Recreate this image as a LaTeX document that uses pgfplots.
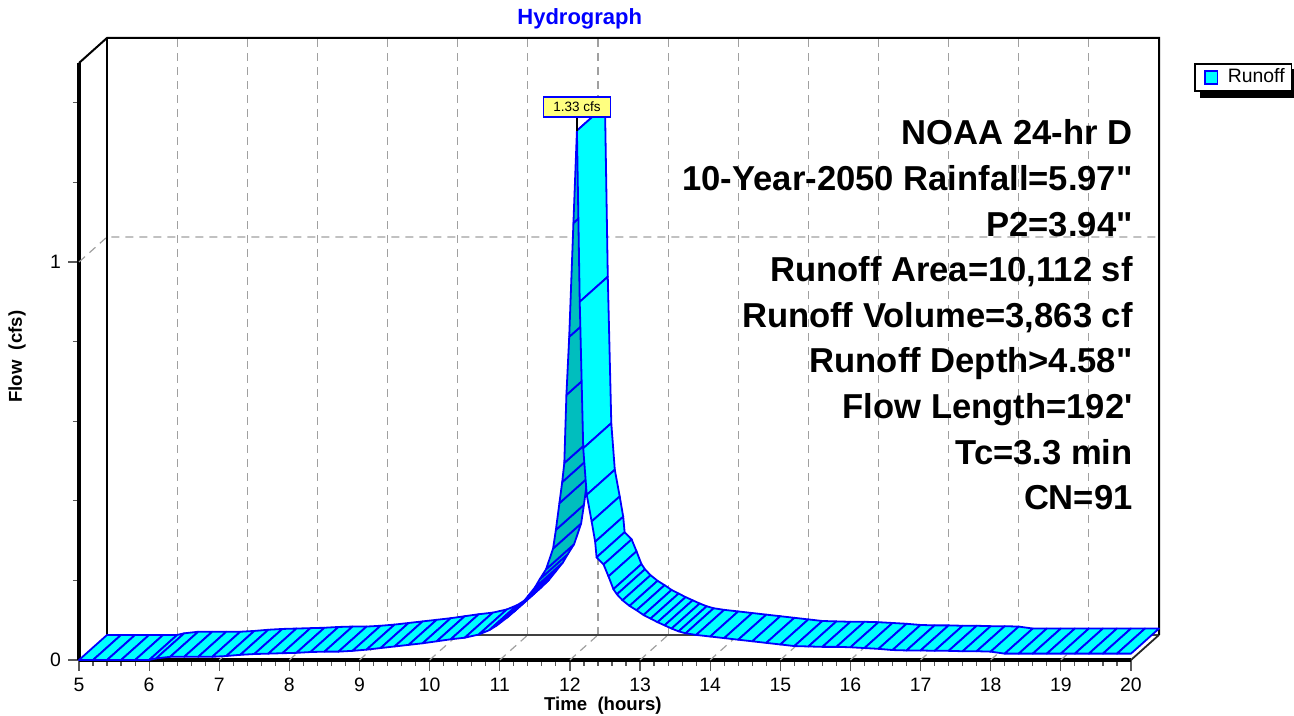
\documentclass[border=0pt]{standalone}
\usepackage{pgfplots}
\pgfplotsset{compat=1.18}
\usepackage{pgfplotstable}
\usepackage{fontspec}
\setmainfont{Liberation Sans}
\setmonofont{Liberation Sans}
\newcommand\dq{{\ttfamily"}}
\newcommand\sq{{\ttfamily'}}
\pgfdeclarelayer{background}
\pgfsetlayers{background,main}
\definecolor{rcyan}{RGB}{0,255,255}
\definecolor{rteal}{RGB}{0,190,190}
\definecolor{rblue}{RGB}{0,0,255}
\definecolor{gridgray}{RGB}{160,160,160}
\definecolor{lblyellow}{RGB}{255,255,128}

\pgfplotstableread{
x y
5.0 0.000
5.2 0.000
5.4 0.000
5.6 0.000
5.8 0.000
6.0 0.000
6.1 0.004
6.3 0.008
6.5 0.008
6.7 0.008
6.9 0.008
7.1 0.010
7.3 0.013
7.5 0.015
7.7 0.016
7.9 0.017
8.1 0.018
8.3 0.020
8.5 0.021
8.7 0.021
8.9 0.023
9.1 0.026
9.3 0.030
9.5 0.034
9.7 0.038
9.9 0.042
10.1 0.047
10.3 0.052
10.5 0.056
10.7 0.064
10.85 0.075
10.95 0.086
11.1 0.106
11.2 0.121
11.3 0.138
11.4 0.160
11.5 0.182
11.57 0.203
11.66 0.228
11.76 0.280
11.80 0.327
11.85 0.394
11.89 0.447
11.92 0.495
11.95 0.666
11.99 0.812
12.05 1.098
12.10 1.330
12.14 0.900
12.19 0.532
12.24 0.415
12.31 0.348
12.36 0.297
12.38 0.258
12.48 0.240
12.55 0.210
12.62 0.178
12.67 0.165
12.75 0.150
12.85 0.136
12.95 0.125
13.05 0.113
13.15 0.104
13.25 0.095
13.35 0.087
13.45 0.079
13.55 0.072
13.65 0.067
13.80 0.063
14.0 0.059
14.2 0.055
14.4 0.051
14.6 0.047
14.8 0.043
15.0 0.039
15.2 0.035
15.4 0.034
15.6 0.033
15.8 0.033
16.0 0.032
16.2 0.030
16.4 0.028
16.6 0.025
16.8 0.024
17.0 0.024
17.2 0.023
17.4 0.023
17.6 0.022
17.8 0.022
18.0 0.021
18.2 0.016
18.4 0.016
18.6 0.016
18.8 0.016
19.0 0.016
19.2 0.016
19.4 0.016
19.6 0.016
19.8 0.016
20.0 0.016
}\hydro

\begin{document}
\begin{tikzpicture}
\path[use as bounding box] (-39.5pt,-28pt) rectangle (607.5pt,330pt);
\pgfplotstablegetrowsof{\hydro}
\pgfmathtruncatemacro\nlast{\pgfplotsretval-2}
\begin{axis}[
  at={(0pt,0pt)}, anchor=south west,
  x=35.065pt, y=199pt,
  xmin=5, xmax=20, ymin=0, ymax=1.5,
  clip=false,
  axis x line*=bottom, axis y line*=left,
  axis line style={line width=2pt, black},
  xtick={5,...,20}, minor x tick num=4,
  ytick={0,1}, minor ytick={0.2,0.4,0.6,0.8,1.2,1.4},
  tick align=outside,
  major tick length=5.5pt, minor tick length=3pt,
  tick style={black!65, line width=0.6pt},
  /pgf/number format/assume math mode=true,
  tick label style={font=\fontsize{9.7}{11}\selectfont},
  xlabel={Time\ \ (hours)},
  ylabel={Flow\ \ (cfs)},
  xlabel style={at={(axis description cs:0.498,0)}, anchor=center, yshift=-23pt, font=\bfseries\fontsize{9.3}{11}\selectfont},
  ylabel style={at={(axis description cs:0,0.508)}, anchor=center, yshift=31pt, font=\bfseries\fontsize{9.3}{11}\selectfont},
  title={Hydrograph},
  title style={at={(axis description cs:0.476,1)}, anchor=center, yshift=16pt, font=\bfseries\fontsize{11}{13}\selectfont, text=rblue},
  legend style={name=leg, at={(axis description cs:1.06,1)}, anchor=north west, draw=black, line width=0.8pt, fill=white,
    font=\fontsize{9.7}{11}\selectfont, inner xsep=1.5pt, inner ysep=0.5pt},
]
\addlegendimage{legend image code/.code={\path[draw=none, fill=none] (-3.5pt,0pt) -- (9.5pt,0pt); \draw[fill=rcyan, draw=rblue, line width=0.8pt] (0pt,-3.2pt) rectangle (6.4pt,3.2pt);}}
\addlegendentry{Runoff}

% back wall, floor and grid
\pgfplotsinvokeforeach{6,...,19}{
  \draw[gridgray, line width=0.6pt, dash pattern=on 4pt off 3pt] (axis cs:#1.4,0.063) -- (axis cs:#1.4,1.563);
  \draw[gridgray, line width=0.6pt, dash pattern=on 4pt off 3pt] (axis cs:#1,0) -- (axis cs:#1.4,0.063);
}
\draw[gridgray, line width=0.6pt, dash pattern=on 4pt off 3pt] (axis cs:5,1) -- (axis cs:5.4,1.063) -- (axis cs:20.4,1.063);
\draw[black!75, line width=0.9pt] (axis cs:5.4,0.063) -- (axis cs:20.4,0.063);
\draw[black, line width=1pt] (axis cs:5,1.5) -- (axis cs:5.4,1.563) -- (axis cs:20.4,1.563) -- (axis cs:20.4,0.063);
\draw[black, line width=1pt] (axis cs:5.4,1.563) -- (axis cs:5.4,0.063);
\draw[black!85, line width=0.9pt] (axis cs:20,0) -- (axis cs:20.4,0.063);

% ribbon, drawn segment by segment from left to right
\pgfplotsforeachungrouped \i in {0,...,\nlast}{%
  \pgfmathtruncatemacro\j{\i+1}%
  \pgfplotstablegetelem{\i}{x}\of\hydro\let\xa\pgfplotsretval
  \pgfplotstablegetelem{\i}{y}\of\hydro\let\ya\pgfplotsretval
  \pgfplotstablegetelem{\j}{x}\of\hydro\let\xb\pgfplotsretval
  \pgfplotstablegetelem{\j}{y}\of\hydro\let\yb\pgfplotsretval
  \pgfmathsetmacro\xaa{\xa+0.4}%
  \pgfmathsetmacro\yaa{\ya+0.063}%
  \pgfmathsetmacro\xbb{\xb+0.4}%
  \pgfmathsetmacro\ybb{\yb+0.063}%
  \pgfmathtruncatemacro\isteal{(1753*(\xb-\xa)-11144*(\yb-\ya))<0 ? 1 : 0}%
  \ifnum\isteal=1 \def\fc{rteal}\else\def\fc{rcyan}\fi
  \edef\doplot{\noexpand\addplot[forget plot, draw=rblue, line width=0.9pt, line join=round, fill=\fc] coordinates {(\xa,\ya) (\xb,\yb) (\xbb,\ybb) (\xaa,\yaa)} -- cycle;}%
  \doplot
}

% peak label
\draw[black, line width=0.6pt] (axis cs:12.10,1.33) -- ([yshift=6.3pt]axis cs:12.10,1.33)
  node[anchor=south, fill=lblyellow, draw=rblue, line width=0.9pt, inner sep=0pt,
       minimum width=33.5pt, minimum height=10pt, font=\fontsize{6.75}{8}\selectfont] {1.33 cfs};

% annotation
\begin{scope}[every node/.style={anchor=base east, inner sep=0pt, font=\bfseries\fontsize{17.3}{20}\selectfont}]
\node at (axis cs:20.03,1.2940) {NOAA 24-hr D};
\node at (axis cs:20.03,1.1794) {10-Year-2050 Rainfall=5.97\dq};
\node at (axis cs:20.03,1.0648) {P2=3.94\dq};
\node at (axis cs:20.03,0.9503) {Runoff Area=10,112 sf};
\node at (axis cs:20.03,0.8357) {Runoff Volume=3,863 cf};
\node at (axis cs:20.03,0.7211) {Runoff Depth>4.58\dq};
\node at (axis cs:20.03,0.6066) {Flow Length=192\sq};
\node at (axis cs:20.03,0.4920) {Tc=3.3 min};
\node at (axis cs:20.03,0.3774) {CN=91};
\end{scope}
\end{axis}
\begin{pgfonlayer}{background}
\fill[black] ([shift={(3pt,-3pt)}]leg.south west) rectangle ([shift={(3pt,-3pt)}]leg.north east);
\end{pgfonlayer}
\end{tikzpicture}
\end{document}
